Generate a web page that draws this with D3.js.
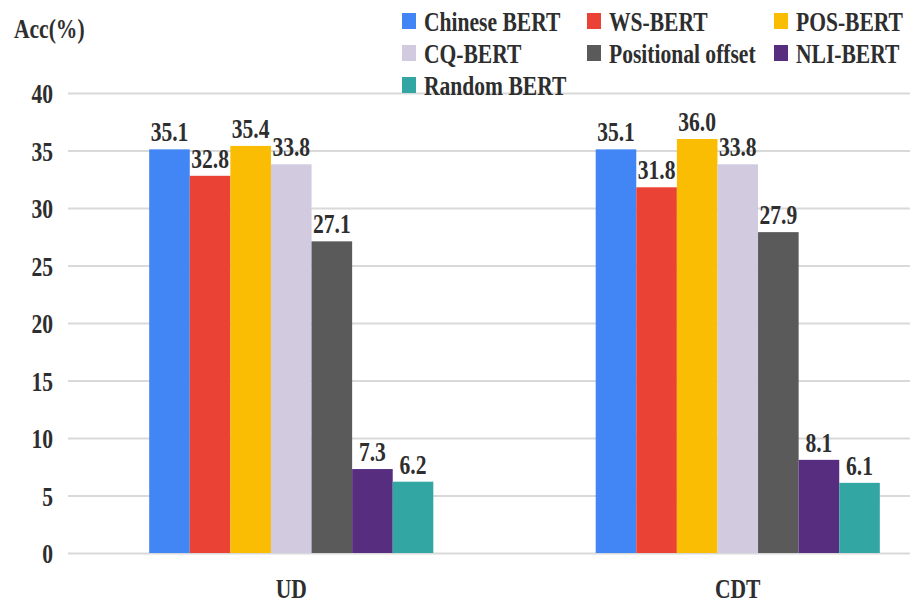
<!DOCTYPE html>
<html>
<head>
<meta charset="utf-8">
<script src="https://cdn.jsdelivr.net/npm/d3@7"></script>
<style>
  html, body { margin: 0; padding: 0; background: #ffffff; }
  svg { display: block; }
  text { font-family: "Liberation Serif", "Times New Roman", serif; font-weight: bold; fill: #2e2e2e; }
</style>
</head>
<body>
<svg id="chart" width="910" height="604"></svg>
<script>
// Probing accuracy per treebank
const categories = ["UD", "CDT"];
const seriesNames = ["Chinese BERT", "WS-BERT", "POS-BERT", "CQ-BERT", "Positional offset", "NLI-BERT", "Random BERT"];
const udValues  = [35.1, 32.8, 35.4, 33.8, 27.1, 7.3, 6.2];
const cdtValues = [35.1, 31.8, 36.0, 33.8, 27.9, 8.1, 6.1];
const yTicks = [0, 5, 10, 15, 20, 25, 30, 35, 40];
const seriesColors = ["#4285F4", "#EA4335", "#FBBC04", "#D2CADF", "#5A5A5A", "#572E7F", "#32A6A3"];

const valuesByCategory = { UD: udValues, CDT: cdtValues };

const plot = { left: 68, right: 910, top: 93, bottom: 553 };
const SX = 0.77;        // horizontal squeeze applied to all text
const FS = 28;          // font size

const svg = d3.select("#chart");

const y = d3.scaleLinear().domain([0, 40]).range([plot.bottom, plot.top]);
const x0 = d3.scaleBand().domain(categories).range([plot.left, 961]).padding(0);
const x1 = d3.scaleBand().domain(seriesNames).range([0, x0.bandwidth()]).paddingOuter(2).paddingInner(0);
const color = d3.scaleOrdinal().domain(seriesNames).range(seriesColors);

// Y axis with gridlines
const yAxis = svg.append("g")
  .attr("transform", `translate(${plot.left},0)`)
  .call(d3.axisLeft(y).tickValues(yTicks).tickSize(-(plot.right - plot.left)).tickFormat(d3.format("d")));
yAxis.select(".domain").remove();
yAxis.selectAll(".tick line").attr("stroke", "#d9d9d9").attr("stroke-width", 2);
yAxis.selectAll(".tick text")
  .attr("x", -15 / SX)
  .attr("dy", "0.35em")
  .attr("transform", `scale(${SX},1)`)
  .style("font-size", FS + "px")
  .style("font-family", "'Liberation Serif', 'Times New Roman', serif")
  .style("font-weight", "bold");

// Bars
const groups = svg.append("g").selectAll("g")
  .data(categories)
  .join("g")
  .attr("transform", d => `translate(${x0(d)},0)`);

groups.selectAll("rect")
  .data(c => seriesNames.map((s, i) => ({ series: s, value: valuesByCategory[c][i] })))
  .join("rect")
  .attr("x", d => x1(d.series))
  .attr("y", d => y(d.value))
  .attr("width", x1.bandwidth())
  .attr("height", d => y(0) - y(d.value))
  .attr("fill", d => color(d.series));

// Value labels
groups.selectAll("text.val")
  .data(c => seriesNames.map((s, i) => ({ series: s, value: valuesByCategory[c][i] })))
  .join("text")
  .attr("class", "val")
  .attr("text-anchor", "middle")
  .attr("transform", d => `translate(${x1(d.series) + x1.bandwidth() / 2},${y(d.value) - 8}) scale(${SX},1)`)
  .style("font-size", FS + "px")
  .text(d => d.value.toFixed(1));

// X axis labels
const xAxis = svg.append("g")
  .attr("transform", `translate(0,${plot.bottom})`)
  .call(d3.axisBottom(x0).tickSize(0));
xAxis.select(".domain").remove();
xAxis.selectAll(".tick text")
  .attr("y", 0)
  .attr("dy", 0)
  .attr("transform", `translate(0,45) scale(${SX},1)`)
  .style("font-size", FS + "px")
  .style("font-family", "'Liberation Serif', 'Times New Roman', serif")
  .style("font-weight", "bold");

// Y axis title
svg.append("text")
  .attr("transform", `translate(14,38) scale(${SX},1)`)
  .style("font-size", FS + "px")
  .text("Acc(%)");

// Legend: three columns, three rows
const legendCols = [402, 587, 774];
const legendRows = [21, 53, 85];
const legend = svg.append("g").selectAll("g")
  .data(seriesNames)
  .join("g")
  .attr("transform", (d, i) => `translate(${legendCols[i % 3]},${legendRows[Math.floor(i / 3)]})`);
legend.append("rect")
  .attr("x", 0).attr("y", -8)
  .attr("width", 14).attr("height", 16)
  .attr("fill", d => color(d));
legend.append("text")
  .attr("transform", `translate(22,10) scale(${SX},1)`)
  .style("font-size", FS + "px")
  .text(d => d);
</script>
</body>
</html>
